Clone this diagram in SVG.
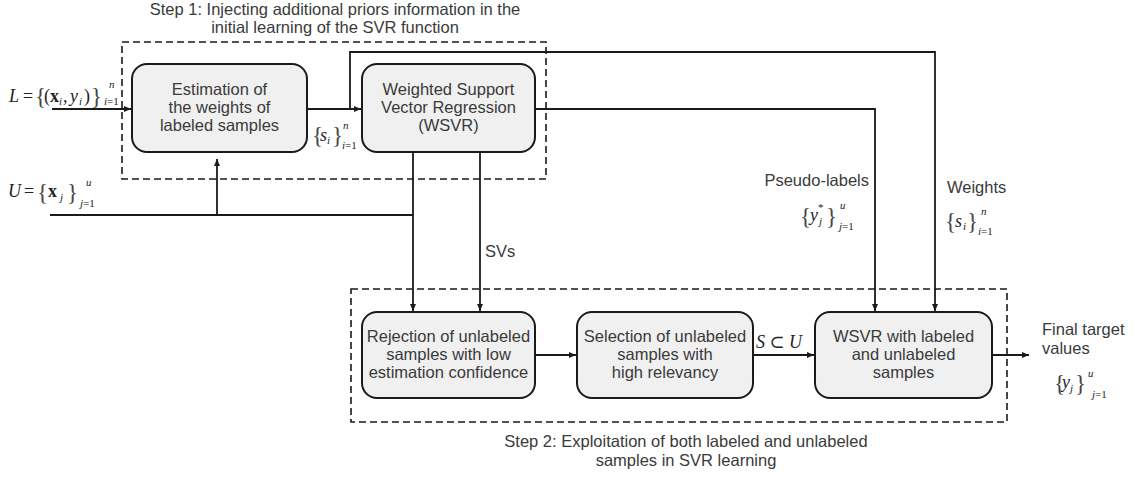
<svg xmlns="http://www.w3.org/2000/svg" width="1137" height="477" viewBox="0 0 1137 477">
<style>
.t{font-family:"Liberation Sans",Arial,sans-serif;font-size:16.5px;fill:#3a3a3a}
.cap{font-family:"Liberation Sans",Arial,sans-serif;font-size:16.5px;fill:#3a3a3a}
.box{fill:#f0f0f0;stroke:#1a1a1a;stroke-width:2}
.dash{fill:none;stroke:#1a1a1a;stroke-width:1.6;stroke-dasharray:7,4}
.ln{fill:none;stroke:#1a1a1a;stroke-width:1.8}
.m{font-family:"Liberation Serif","DejaVu Serif",serif;font-size:18px;fill:#222}
.i{font-style:italic}
.b{font-weight:bold}
.br{font-size:23px;fill:#444}
.s{font-size:11px}
</style>
<defs>
<marker id="ah" markerWidth="8" markerHeight="8" refX="7" refY="4" orient="auto" markerUnits="userSpaceOnUse">
<path d="M0,1 L7,4 L0,7 Z" fill="#1a1a1a"/>
</marker>
</defs>

<g id="step1-frame">
<rect class="dash" x="122" y="42" width="424" height="137"/>
<text class="cap" x="335" y="15" text-anchor="middle">Step 1: Injecting additional priors information in the</text>
<text class="cap" x="335" y="33" text-anchor="middle">initial learning of the SVR function</text>
</g>

<g id="step2-frame">
<rect class="dash" x="351" y="289" width="656" height="133"/>
<text class="cap" x="686" y="447" text-anchor="middle">Step 2: Exploitation of both labeled and unlabeled</text>
<text class="cap" x="686" y="466" text-anchor="middle">samples in SVR learning</text>
</g>

<g id="connectors">
<path class="ln" d="M52,109 H131" marker-end="url(#ah)"/>
<path class="ln" d="M307,109 H361" marker-end="url(#ah)"/>
<path class="ln" d="M350,109 V52 H935 V311" marker-end="url(#ah)"/>
<path class="ln" d="M535,109 H875 V311" marker-end="url(#ah)"/>
<path class="ln" d="M50,215 H413"/>
<path class="ln" d="M217,215 V159" marker-end="url(#ah)"/>
<path class="ln" d="M413,152 V311" marker-end="url(#ah)"/>
<path class="ln" d="M480,152 V311" marker-end="url(#ah)"/>
<path class="ln" d="M535,355 H576" marker-end="url(#ah)"/>
<path class="ln" d="M753,355 H814" marker-end="url(#ah)"/>
<path class="ln" d="M992,355 H1029" marker-end="url(#ah)"/>
<text class="t" x="485" y="257">SVs</text>
</g>

<g id="label-L">
<text class="m"><tspan class="i" x="9" y="102">L</tspan><tspan x="23" y="102">=</tspan><tspan class="br" x="35" y="104">{</tspan><tspan x="44" y="102">(</tspan><tspan class="b" x="50" y="102">x</tspan><tspan class="i s" x="59" y="105">i</tspan><tspan x="63" y="102">,</tspan><tspan class="i" x="70" y="102">y</tspan><tspan class="i s" x="79" y="105">i</tspan><tspan x="84" y="102">)</tspan><tspan class="br" x="91" y="104">}</tspan><tspan class="i s" x="109" y="88">n</tspan><tspan class="s" x="104" y="105"><tspan class="i">i</tspan>=1</tspan></text>
</g>

<g id="label-U">
<text class="m"><tspan class="i" x="8" y="197">U</tspan><tspan x="24" y="197">=</tspan><tspan class="br" x="37" y="200">{</tspan><tspan class="b" x="48" y="197">x</tspan><tspan class="i s" x="60" y="201">j</tspan><tspan class="br" x="67" y="200">}</tspan><tspan class="i s" x="86" y="186">u</tspan><tspan class="s" x="80" y="207"><tspan class="i">j</tspan>=1</tspan></text>
</g>

<g id="label-s1">
<text class="m"><tspan class="br" x="312" y="143">{</tspan><tspan class="i" x="320" y="141">s</tspan><tspan class="i s" x="327" y="144">i</tspan><tspan class="br" x="332" y="143">}</tspan><tspan class="i s" x="343" y="129">n</tspan><tspan class="s" x="342" y="149"><tspan class="i">i</tspan>=1</tspan></text>
</g>

<g id="label-pseudo">
<text class="t" x="869" y="186" text-anchor="end">Pseudo-labels</text>
<text class="m"><tspan class="br" x="800" y="224">{</tspan><tspan class="i" x="810" y="221">y</tspan><tspan class="s" x="818" y="211">*</tspan><tspan class="i s" x="819" y="225">j</tspan><tspan class="br" x="826" y="224">}</tspan><tspan class="i s" x="840" y="209">u</tspan><tspan class="s" x="839" y="230"><tspan class="i">j</tspan>=1</tspan></text>
</g>

<g id="label-weights">
<text class="t" x="947" y="193">Weights</text>
<text class="m"><tspan class="br" x="945" y="229">{</tspan><tspan class="i" x="955" y="227">s</tspan><tspan class="i s" x="963" y="230">i</tspan><tspan class="br" x="967" y="229">}</tspan><tspan class="i s" x="981" y="215">n</tspan><tspan class="s" x="978" y="235"><tspan class="i">i</tspan>=1</tspan></text>
</g>

<g id="label-SU">
<text class="m" x="756" y="348"><tspan class="i">S</tspan> ⊂ <tspan class="i">U</tspan></text>
</g>

<g id="label-final">
<text class="t" x="1042" y="335">Final target</text>
<text class="t" x="1042" y="354">values</text>
<text class="m"><tspan class="br" x="1054" y="391">{</tspan><tspan class="i" x="1062" y="388">y</tspan><tspan class="i s" x="1070" y="392">j</tspan><tspan class="br" x="1075" y="391">}</tspan><tspan class="i s" x="1088" y="377">u</tspan><tspan class="s" x="1092" y="398"><tspan class="i">j</tspan>=1</tspan></text>
</g>

<g id="node-estimation">
<rect class="box" x="132" y="64" width="175" height="88" rx="15"/>
<text class="t" text-anchor="middle"><tspan x="219.5" y="95">Estimation of</tspan><tspan x="219.5" y="113">the weights of</tspan><tspan x="219.5" y="131">labeled samples</tspan></text>
</g>

<g id="node-wsvr">
<rect class="box" x="362" y="64" width="173" height="88" rx="15"/>
<text class="t" text-anchor="middle"><tspan x="448.5" y="95">Weighted Support</tspan><tspan x="448.5" y="113">Vector Regression</tspan><tspan x="448.5" y="131">(WSVR)</tspan></text>
</g>

<g id="node-rejection">
<rect class="box" x="362" y="312" width="173" height="86" rx="15"/>
<text class="t" text-anchor="middle"><tspan x="448.5" y="342">Rejection of unlabeled</tspan><tspan x="448.5" y="360">samples with low</tspan><tspan x="448.5" y="378">estimation confidence</tspan></text>
</g>

<g id="node-selection">
<rect class="box" x="577" y="312" width="176" height="86" rx="15"/>
<text class="t" text-anchor="middle"><tspan x="665" y="342">Selection of unlabeled</tspan><tspan x="665" y="360">samples with</tspan><tspan x="665" y="378">high relevancy</tspan></text>
</g>

<g id="node-wsvr2">
<rect class="box" x="815" y="312" width="177" height="86" rx="15"/>
<text class="t" text-anchor="middle"><tspan x="903.5" y="342">WSVR with labeled</tspan><tspan x="903.5" y="360">and unlabeled</tspan><tspan x="903.5" y="378">samples</tspan></text>
</g>
</svg>
